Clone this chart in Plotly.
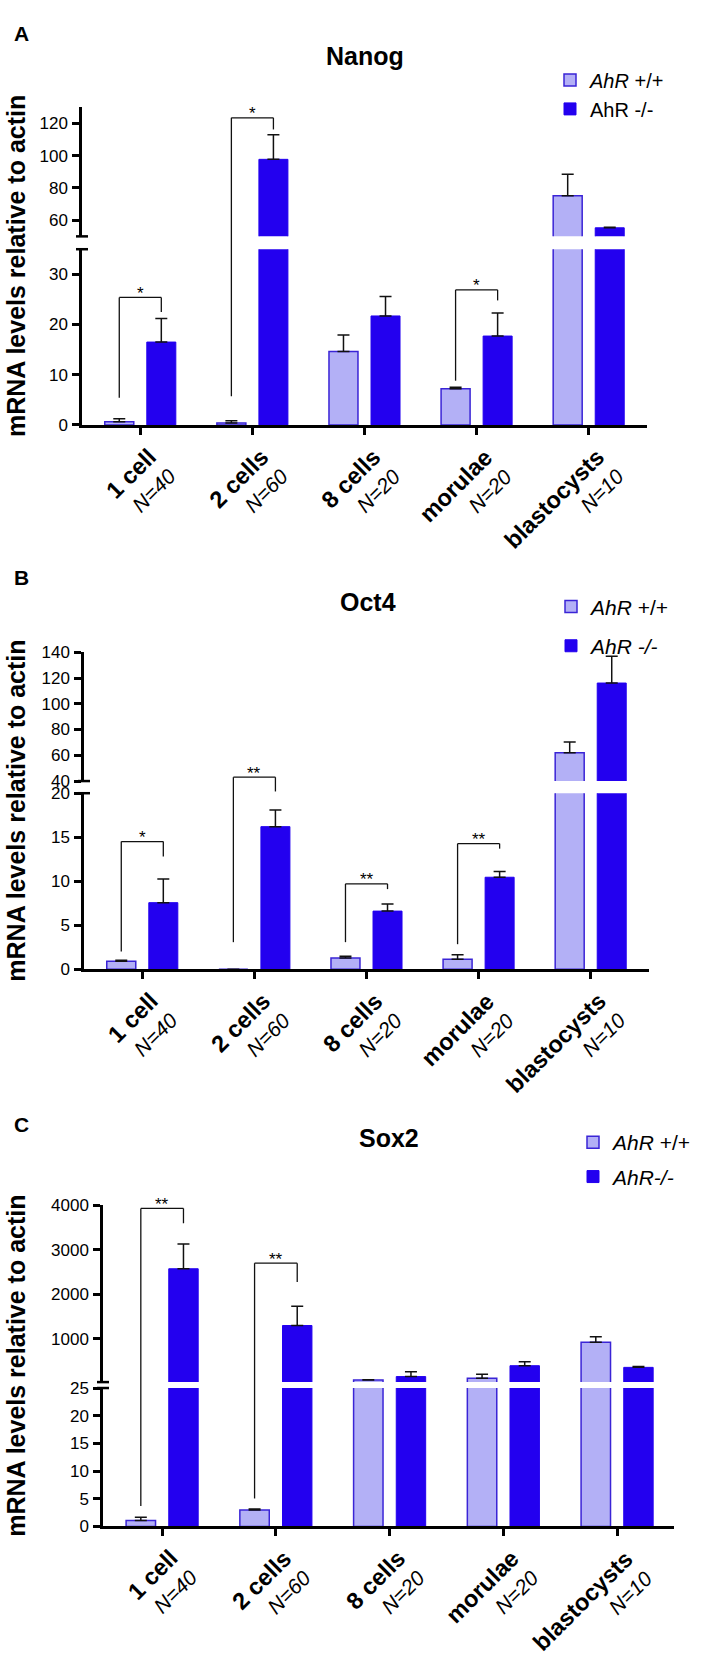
import plotly.graph_objects as go

W, H = 704, 1659

# ---------------- data ----------------
stages = ["1 cell", "2 cells", "8 cells", "morulae", "blastocysts"]
n_labels = ["N=40", "N=60", "N=20", "N=20", "N=10"]

nanog_wt = [0.6, 0.4, 14.6, 7.2, 75.2]
nanog_wt_sem = [0.6, 0.4, 3.3, 0.3, 13.3]
nanog_ko = [16.5, 97.7, 21.7, 17.7, 55.3]
nanog_ko_sem = [4.7, 15.2, 3.9, 4.6, 0.3]

oct4_wt = [0.9, 0.0, 1.27, 1.12, 62.0]
oct4_wt_sem = [0.1, 0.0, 0.19, 0.52, 8.4]
oct4_ko = [7.56, 16.2, 6.6, 10.45, 116.1]
oct4_ko_sem = [2.7, 1.9, 0.8, 0.65, 20.7]

sox2_wt = [1.07, 2.98, 73, 111, 918]
sox2_wt_sem = [0.59, 0.18, 2, 89, 126]
sox2_ko = [2571, 1296, 149, 393, 356]
sox2_ko_sem = [556, 431, 111, 89, 22]

# significance brackets: (stage index, top, left-leg bottom, right-leg bottom, label)
nanog_sig = [(0, 25.4, 5.4, 22.5, "*"), (1, 123.4, 5.7, 116.2, "*"), (3, 26.9, 8.8, 24.8, "*")]
oct4_sig = [(0, 14.5, 2.0, 12.8, "*"), (1, 43.0, 3.07, 20.2, "**"),
            (2, 9.7, 3.07, 9.1, "**"), (3, 14.27, 2.84, 13.7, "**")]
sox2_sig = [(0, 3927, 3.7, 3593, "**"), (1, 2696, 5.05, 2273, "**")]

LIGHT = "#b3b0f6"
DARK = "#2300ef"
EDGE = "#3a24d6"
FONT = "Liberation Sans, Arial, sans-serif"

stage_labels = ["<span style='font-size:23.5px'><b>%s</b></span><br><i>%s</i>" % (s, n)
                for s, n in zip(stages, n_labels)]

panels = [
    dict(letter="A", title="Nanog", wt=nanog_wt, wt_sem=nanog_wt_sem, ko=nanog_ko, ko_sem=nanog_ko_sem,
         sig=nanog_sig, lo_range=[0, 35], up_range=[50, 130], lo_ticks=[0, 10, 20, 30],
         up_ticks=[60, 80, 100, 120], xpx=(82, 647), lo_px=(243, 420.7), up_px=(99.3, 230),
         xr=[-0.52, 4.52], title_xy=(365, 48), letter_y=24.5,
         leg_names=["<i>AhR</i> +/+", "AhR -/-"], leg_xy=(593, 68), leg_gap=0, leg_font=20),
    dict(letter="B", title="Oct4", wt=oct4_wt, wt_sem=oct4_wt_sem, ko=oct4_ko, ko_sem=oct4_ko_sem,
         sig=oct4_sig, lo_range=[0, 20], up_range=[40, 140], lo_ticks=[0, 5, 10, 15, 20],
         up_ticks=[40, 60, 80, 100, 120, 140], xpx=(84, 649), lo_px=(793.3, 971.3), up_px=(650.7, 781),
         xr=[-0.52, 4.52], title_xy=(368, 600), letter_y=575,
         leg_names=["<i>AhR</i> +/+", "<i>AhR -/-</i>"], leg_xy=(594, 600), leg_gap=9, leg_font=21),
    dict(letter="C", title="Sox2", wt=sox2_wt, wt_sem=sox2_wt_sem, ko=sox2_ko, ko_sem=sox2_ko_sem,
         sig=sox2_sig, lo_range=[0, 25], up_range=[25, 4000], lo_ticks=[0, 5, 10, 15, 20, 25],
         up_ticks=[1000, 2000, 3000, 4000], xpx=(103, 674), lo_px=(1395, 1535), up_px=(1210, 1389),
         xr=[-0.52, 4.5], title_xy=(389, 1142), letter_y=1128,
         leg_names=["<i>AhR</i> +/+", "<i>AhR-/-</i>"], leg_xy=(616, 1142), leg_gap=4, leg_font=21),
]


def px_x(p):
    return p / W


def px_y(p):
    return 1 - p / H


def val_to_paper(P, v):
    if v < P["up_range"][0]:
        r, d = P["lo_range"], P["lo_px"]
    else:
        r, d = P["up_range"], P["up_px"]
    frac = (v - r[0]) / (r[1] - r[0])
    pix = d[1] - frac * (d[1] - d[0])
    return px_y(pix)


fig = go.Figure()
layout = dict(width=W, height=H, margin=dict(l=0, r=0, t=0, b=0),
              paper_bgcolor="white", plot_bgcolor="white",
              barmode="group", bargap=0.25, bargroupgap=0.31,
              font=dict(family=FONT, color="black"), shapes=[], annotations=[])

OFF = 0.1875
axis_common = dict(showgrid=False, zeroline=False, showline=True, linecolor="black",
                   ticks="outside", tickcolor="black")

for k, P in enumerate(panels):
    lo_i, up_i = 2 * k + 1, 2 * k + 2
    legname = "legend" if k == 0 else "legend%d" % (k + 1)
    xdom = [px_x(P["xpx"][0]), px_x(P["xpx"][1])]
    for seg_i, rng, dpx, ticks in [(lo_i, P["lo_range"], P["lo_px"], P["lo_ticks"]),
                                   (up_i, P["up_range"], P["up_px"], P["up_ticks"])]:
        xa = "xaxis" if seg_i == 1 else "xaxis%d" % seg_i
        ya = "yaxis" if seg_i == 1 else "yaxis%d" % seg_i
        xref = "x" if seg_i == 1 else "x%d" % seg_i
        yref = "y" if seg_i == 1 else "y%d" % seg_i
        is_lo = seg_i == lo_i
        if is_lo:
            layout[xa] = dict(axis_common, domain=xdom, anchor=yref, type="category",
                              categoryorder="array", categoryarray=stages,
                              range=P["xr"], tickvals=stages, showticklabels=False,
                              linewidth=3, ticklen=7, tickwidth=2.5)
        else:
            layout[xa] = dict(domain=xdom, anchor=yref, type="category",
                              categoryorder="array", categoryarray=stages,
                              range=P["xr"], visible=False)
        layout[ya] = dict(axis_common, domain=[px_y(dpx[1]), px_y(dpx[0])], anchor=xref,
                          range=rng, tickvals=ticks, linewidth=2.5, ticklen=7, tickwidth=2.5,
                          ticklabelstandoff=1,
                          tickfont=dict(size=17, family=FONT, color="black"))
        for name, vals, sem, color, lw, gi in [(P["leg_names"][0], P["wt"], P["wt_sem"], LIGHT, 1.5, 0),
                                              (P["leg_names"][1], P["ko"], P["ko_sem"], DARK, 1, 1)]:
            fig.add_trace(go.Bar(
                x=stages, y=vals, name=name, xaxis=xref, yaxis=yref,
                marker=dict(color=color, line=dict(color=EDGE if gi == 0 else DARK, width=lw)),
                error_y=dict(type="data", array=sem, arrayminus=[0] * len(sem), symmetric=False,
                             color="#111111", thickness=1.5, width=6),
                legend=legname, legendgroup="p%d_%d" % (k, gi), showlegend=is_lo,
            ))
    lo_xref = "x" if lo_i == 1 else "x%d" % lo_i
    # rotated category labels (stage + N)
    for s, lab in zip(stages, stage_labels):
        layout["annotations"].append(dict(xref=lo_xref, yref="paper", x=s, y=px_y(P["lo_px"][1]),
                                          text=lab, textangle=-45, align="right", showarrow=False,
                                          xanchor="right", yanchor="top", xshift=42, yshift=-16,
                                          font=dict(size=21, family=FONT, color="black")))
    # legend
    layout[legname] = dict(x=px_x(P["leg_xy"][0] - 43), y=px_y(P["leg_xy"][1] - 16),
                           xanchor="left", yanchor="top", bgcolor="rgba(0,0,0,0)",
                           font=dict(size=P["leg_font"], family=FONT, color="black"),
                           tracegroupgap=P["leg_gap"], itemclick=False)
    # axis break caps
    ax_x = P["xpx"][0]
    for ypix in (P["lo_px"][0], P["up_px"][1]):
        layout["shapes"].append(dict(type="line", xref="paper", yref="paper",
                                     x0=px_x(ax_x - 6), x1=px_x(ax_x + 6),
                                     y0=px_y(ypix), y1=px_y(ypix),
                                     line=dict(color="black", width=2.5)))
    # significance brackets
    for (i, top, lb, rb, lab) in P["sig"]:
        xl, xr_ = i - OFF, i + OFF
        yt = val_to_paper(P, top)
        for x0, y0, x1, y1 in [(xl, val_to_paper(P, lb), xl, yt), (xl, yt, xr_, yt),
                               (xr_, yt, xr_, val_to_paper(P, rb))]:
            layout["shapes"].append(dict(type="line", xref=lo_xref, yref="paper",
                                         x0=x0, x1=x1, y0=y0, y1=y1,
                                         line=dict(color="#111111", width=1.3)))
        layout["annotations"].append(dict(xref=lo_xref, yref="paper", x=i, y=yt, text=lab,
                                          showarrow=False, yanchor="middle", yshift=4,
                                          font=dict(size=17, family=FONT, color="black")))
    # y-axis title
    ymid = (P["up_px"][0] + P["lo_px"][1]) / 2
    layout["annotations"].append(dict(xref="paper", yref="paper", x=px_x(16), y=px_y(ymid),
                                      text="<b>mRNA levels relative to actin</b>", textangle=-90,
                                      showarrow=False, xanchor="center", yanchor="middle",
                                      font=dict(size=25, family=FONT, color="black")))
    # panel title and letter
    layout["annotations"].append(dict(xref="paper", yref="paper", x=px_x(P["title_xy"][0]),
                                      y=px_y(P["title_xy"][1]), text="<b>%s</b>" % P["title"],
                                      showarrow=False, xanchor="center", yanchor="middle",
                                      font=dict(size=25, family=FONT, color="black")))
    layout["annotations"].append(dict(xref="paper", yref="paper", x=px_x(21), y=px_y(P["letter_y"]),
                                      text="<b>%s</b>" % P["letter"], showarrow=False,
                                      xanchor="center", yanchor="middle",
                                      font=dict(size=21, family=FONT, color="black")))

fig.update_layout(**layout)
fig.write_html("out.html", config={"displayModeBar": False},
               post_script="document.body.style.margin='0px';document.body.style.padding='0px';")
